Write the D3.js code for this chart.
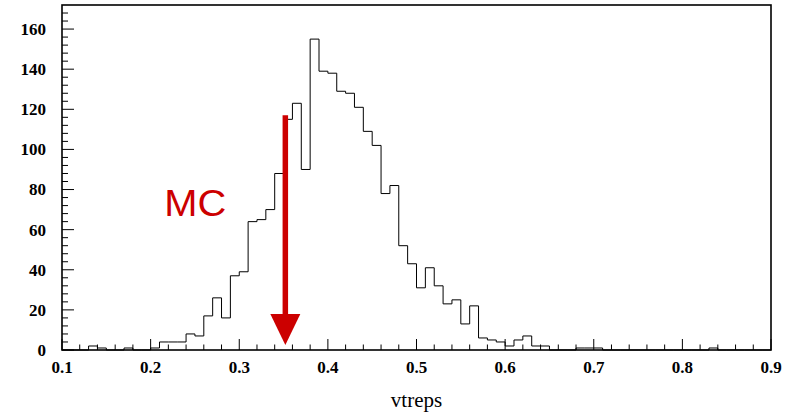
<!DOCTYPE html>
<html>
<head>
<meta charset="utf-8">
<script src="https://cdn.jsdelivr.net/npm/d3@7"></script>
<style>
  body { margin: 0; background: #fff; }
</style>
</head>
<body>
<svg id="chart"></svg>
<script>
// bin lower edges, 0.01 wide, 0.10 .. 0.89
const binEdges = d3.range(80).map((i) => +(0.1 + i * 0.01).toFixed(2));
const counts = [
  0, 0, 0, 2, 1, 0, 0, 1, 0, 0,
  1, 4, 4, 4, 8, 7, 17, 26, 16, 37,
  39, 64, 65, 70, 88, 115, 123, 90, 155, 139,
  138, 129, 128, 121, 109, 102, 78, 82, 52, 43,
  31, 41, 32, 23, 25, 13, 22, 6, 5, 4,
  2, 5, 7, 2, 2, 0, 0, 0, 1, 1,
  1, 0, 0, 0, 0, 0, 0, 0, 0, 0,
  0, 0, 0, 1, 0, 0, 0, 0, 0, 0,
];
const xTickLabels = [0.1, 0.2, 0.3, 0.4, 0.5, 0.6, 0.7, 0.8, 0.9];
const yTickLabels = [0, 20, 40, 60, 80, 100, 120, 140, 160];
const arrowX = [0.352];
const arrowY = [117, 18, 2.5]; // shaft top, head base, tip
const label = "MC";

const WIDTH = 795;
const HEIGHT = 415;
const margin = { left: 62, right: 24, top: 5, bottom: 65 };
const innerW = WIDTH - margin.left - margin.right;
const innerH = HEIGHT - margin.top - margin.bottom;
const red = "#cc0000";

const x = d3.scaleLinear().domain([0.1, 0.9]).range([0, innerW]);
const y = d3.scaleLinear().domain([0, 172]).range([innerH, 0]);

const svg = d3.select("#chart").attr("width", WIDTH).attr("height", HEIGHT);
const g = svg.append("g").attr("transform", `translate(${margin.left},${margin.top})`);

// histogram outline
const pts = [[0.1, 0]].concat(binEdges.map((e, i) => [e, counts[i]]));
pts.push([0.9, counts[counts.length - 1]]);
const line = d3.line().x((d) => x(d[0])).y((d) => y(d[1])).curve(d3.curveStepAfter);
g.append("path")
  .attr("d", line(pts))
  .attr("fill", "none")
  .attr("stroke", "#000")
  .attr("stroke-width", 1);

// ticks (inside, ROOT style)
const xMinor = d3.range(0.1, 0.9001, 0.02).map((v) => +v.toFixed(2));
g.selectAll(".xminor").data(xMinor).join("line")
  .attr("x1", (d) => x(d)).attr("x2", (d) => x(d))
  .attr("y1", innerH).attr("y2", (d) => innerH - (xTickLabels.some((t) => Math.abs(t - d) < 1e-6) ? 11 : 5.5))
  .attr("stroke", "#000").attr("stroke-width", 1);

const yMinor = d3.range(0, 172, 4);
g.selectAll(".yminor").data(yMinor).join("line")
  .attr("y1", (d) => y(d)).attr("y2", (d) => y(d))
  .attr("x1", 0).attr("x2", (d) => (d % 20 === 0 ? 12 : 6))
  .attr("stroke", "#000").attr("stroke-width", 1);

// tick labels
g.selectAll(".xl").data(xTickLabels).join("text")
  .attr("x", (d) => x(d)).attr("y", innerH + 23)
  .attr("text-anchor", "middle")
  .attr("font-family", "'Liberation Serif', 'Times New Roman', serif")
  .attr("font-weight", "bold").attr("font-size", 17)
  .text((d) => d3.format(".1f")(d));

g.selectAll(".yl").data(yTickLabels).join("text")
  .attr("x", -16).attr("y", (d) => y(d)).attr("dy", "0.35em")
  .attr("text-anchor", "end")
  .attr("font-family", "'Liberation Serif', 'Times New Roman', serif")
  .attr("font-weight", "bold").attr("font-size", 17)
  .text((d) => d);

// axis title
svg.append("text")
  .attr("x", margin.left + innerW / 2).attr("y", 407)
  .attr("text-anchor", "middle")
  .attr("font-family", "'Liberation Serif', 'Times New Roman', serif")
  .attr("font-size", 21)
  .text("vtreps");

// frame
g.append("rect")
  .attr("x", 0).attr("y", 0).attr("width", innerW).attr("height", innerH)
  .attr("fill", "none").attr("stroke", "#000").attr("stroke-width", 1.6);

// red arrow
const ax = x(arrowX[0]);
g.append("line")
  .attr("x1", ax).attr("x2", ax)
  .attr("y1", y(arrowY[0])).attr("y2", y(arrowY[1]))
  .attr("stroke", red).attr("stroke-width", 5.5);
g.append("path")
  .attr("d", `M${ax - 15},${y(arrowY[1])}L${ax + 15},${y(arrowY[1])}L${ax},${y(arrowY[2])}Z`)
  .attr("fill", red);

// MC label
g.append("text")
  .attr("x", x(0.2155)).attr("y", y(67))
  .attr("font-family", "'Liberation Sans', Arial, sans-serif")
  .attr("font-size", 37)
  .attr("fill", red)
  .attr("textLength", 62)
  .attr("lengthAdjust", "spacingAndGlyphs")
  .text(label);
</script>
</body>
</html>
